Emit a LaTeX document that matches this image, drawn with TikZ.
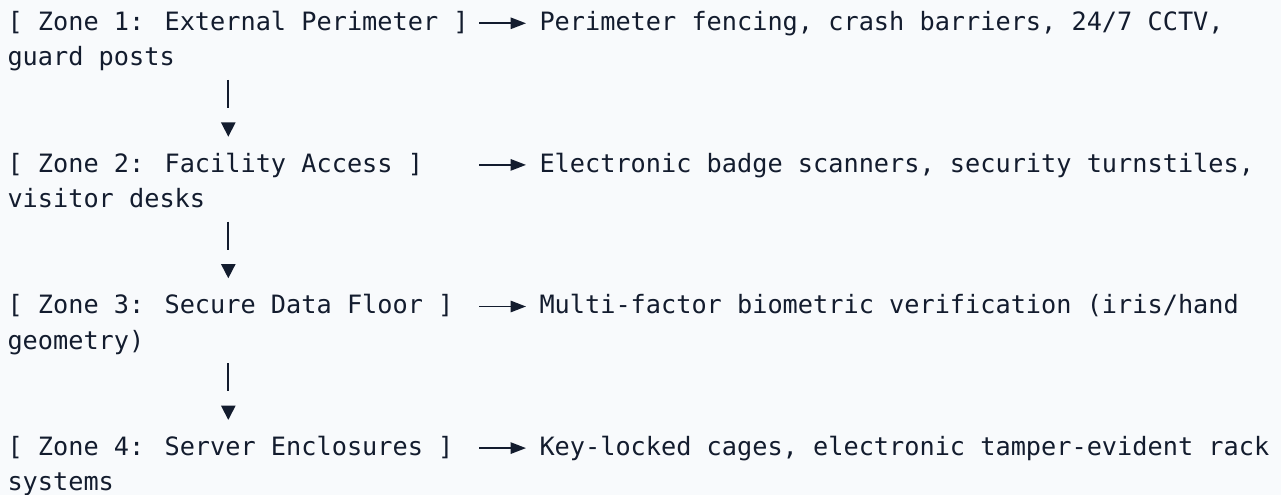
\documentclass[tikz,border=0pt]{standalone}
\usepackage{fontspec}
\newfontfamily\diagmono{DejaVu Sans Mono}
\usetikzlibrary{arrows.meta,calc}
\definecolor{ink}{HTML}{131C2E}
\definecolor{paper}{HTML}{F8FAFC}
\begin{document}
\begin{tikzpicture}[x=0.75pt,y=-0.75pt,
  txt/.style={anchor=base west,inner sep=0pt,outer sep=0pt,text=ink,
    font=\diagmono\fontsize{18.94pt}{18.94pt}\selectfont},
  harrow/.style={draw=ink,line width=1.25pt,-{Triangle[length=11.5pt,width=8.5pt]}},
  varrow/.style={draw=ink,line width=1.25pt,dash pattern=on 21pt off 60pt,
    -{Triangle[length=10.7pt,width=10.7pt]}}]
\fill[paper] (0,0) rectangle (1281,495);
\useasboundingbox (0,0) rectangle (1281,495);
% rows: baseline = 30.5 + 35.4 n ; columns: 7.5 + 15.2 c
\node[txt] (z1) at (7.5,30.5) {[ Zone 1: External Perimeter ]};
\node[txt] (d1) at (539.5,30.5) {Perimeter fencing, crash barriers, 24/7 CCTV,};
\node[txt] (d1b) at (7.5,65.9) {guard posts};
\node[txt] (z2) at (7.5,172.1) {[ Zone 2: Facility Access ]};
\node[txt] (d2) at (539.5,172.1) {Electronic badge scanners, security turnstiles,};
\node[txt] (d2b) at (7.5,207.5) {visitor desks};
\node[txt] (z3) at (7.5,313.7) {[ Zone 3: Secure Data Floor ]};
\node[txt] (d3) at (539.5,313.7) {Multi-factor biometric verification (iris/hand};
\node[txt] (d3b) at (7.5,349.1) {geometry)};
\node[txt] (z4) at (7.5,455.3) {[ Zone 4: Server Enclosures ]};
\node[txt] (d4) at (539.5,455.3) {Key-locked cages, electronic tamper-evident rack};
\node[txt] (d4b) at (7.5,490.7) {systems};
% horizontal arrows (start column 31)
\foreach \z/\d in {z1/d1,z2/d2,z3/d3,z4/d4}{
  \coordinate (\z s) at ($(\z.base west)+(471.5,-7.2)$);
  \draw[harrow] (\z s) -- ($(\d.base west)+(-13.5,-7.2)$);
}
% vertical arrows
\foreach \a/\b in {z1/z2,z2/z3,z3/z4}{
  \coordinate (\a v) at ($(\a.base west)+(220.8,49.5)$);
  \draw[varrow] (\a v) -- ($(\b.base west)+(220.8,-35.4)$);
}
\end{tikzpicture}
\end{document}
